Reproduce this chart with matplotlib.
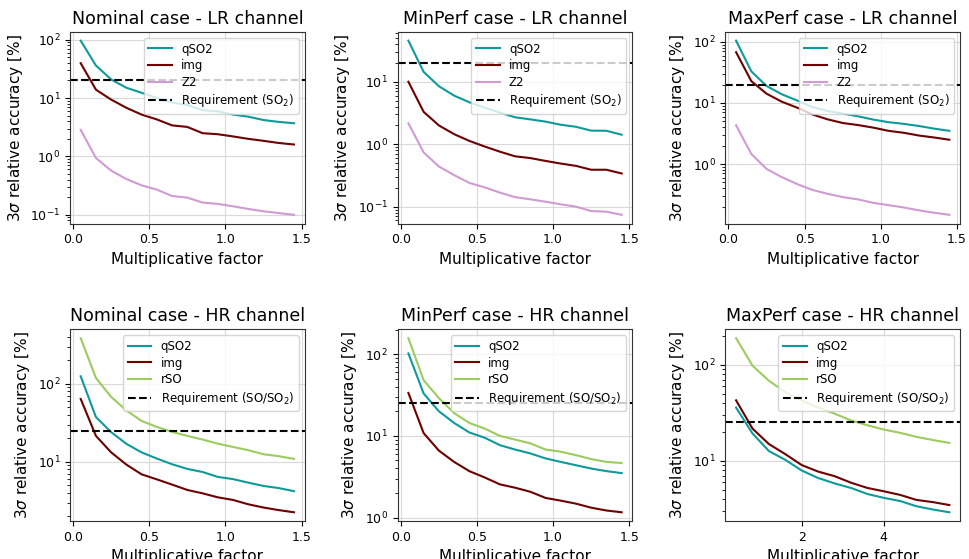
import numpy as np
import matplotlib
matplotlib.use("Agg")
import matplotlib.pyplot as plt
from matplotlib.ticker import MultipleLocator

# multiplicative factors
factor = [0.05, 0.15, 0.25, 0.35, 0.45, 0.55, 0.65, 0.75, 0.85, 0.95, 1.05, 1.15, 1.25, 1.35, 1.45]
factor_maxperf_hr = [0.4, 0.8, 1.2, 1.6, 2.0, 2.4, 2.8, 3.2, 3.6, 4.0, 4.4, 4.8, 5.2, 5.6]

# LR channel, 3-sigma relative accuracy [%]
nom_lr_qso2 = [96, 36, 20.8, 15, 12.3, 10, 8.4, 7.6, 6.2, 5.9, 5.2, 4.8, 4.2, 3.9, 3.7]
nom_lr_img = [39.5, 13.9, 9.4, 6.8, 5.2, 4.3, 3.4, 3.2, 2.5, 2.4, 2.2, 2.0, 1.85, 1.7, 1.6]
nom_lr_z2 = [2.85, 0.94, 0.57, 0.41, 0.32, 0.27, 0.21, 0.197, 0.162, 0.154, 0.14, 0.126, 0.115, 0.107, 0.10]

min_lr_qso2 = [45.5, 14.4, 8.5, 6.0, 4.7, 3.85, 3.2, 2.7, 2.5, 2.3, 2.05, 1.9, 1.65, 1.64, 1.42]
min_lr_img = [10, 3.3, 2.0, 1.45, 1.13, 0.92, 0.76, 0.64, 0.6, 0.54, 0.49, 0.45, 0.39, 0.39, 0.34]
min_lr_z2 = [2.16, 0.74, 0.44, 0.32, 0.24, 0.204, 0.168, 0.142, 0.131, 0.12, 0.109, 0.10, 0.085, 0.083, 0.074]

max_lr_qso2 = [105, 33, 19, 13.9, 11, 8.6, 7.4, 6.7, 6.05, 5.35, 4.85, 4.55, 4.2, 3.8, 3.5]
max_lr_img = [68, 22.8, 14.2, 10.5, 8.4, 6.5, 5.4, 4.7, 4.35, 3.95, 3.5, 3.25, 2.93, 2.72, 2.5]
max_lr_z2 = [4.3, 1.46, 0.83, 0.61, 0.47, 0.377, 0.325, 0.287, 0.263, 0.231, 0.212, 0.194, 0.174, 0.159, 0.147]

# HR channel
nom_hr_qso2 = [125, 37.5, 24, 17, 13.2, 11, 9.3, 8.1, 7.4, 6.4, 6.0, 5.4, 4.9, 4.6, 4.2]
nom_hr_img = [64, 21.5, 13.2, 9.2, 6.9, 5.95, 5.1, 4.35, 3.94, 3.5, 3.24, 2.85, 2.59, 2.4, 2.25]
nom_hr_rso = [386, 119, 68, 45.6, 33.4, 28, 24.2, 21.5, 19.3, 17.1, 15.5, 14.1, 12.5, 11.8, 10.9]

min_hr_qso2 = [102, 33, 20, 14.4, 11, 9.5, 7.7, 6.8, 6.1, 5.3, 4.8, 4.37, 3.98, 3.7, 3.5]
min_hr_img = [33.5, 10.8, 6.6, 4.8, 3.7, 3.1, 2.55, 2.32, 2.07, 1.74, 1.61, 1.48, 1.32, 1.22, 1.16]
min_hr_rso = [157, 48, 29, 19, 14.4, 12.3, 10, 9.0, 8.1, 6.8, 6.4, 5.8, 5.2, 4.8, 4.65]

max_hr_qso2 = [35.7, 19.2, 12.6, 10.2, 7.9, 6.6, 5.8, 5.2, 4.5, 4.1, 3.8, 3.35, 3.1, 2.9]
max_hr_img = [42.5, 21.6, 14.9, 11.7, 9.0, 7.7, 6.9, 5.9, 5.2, 4.8, 4.4, 3.9, 3.7, 3.45]
max_hr_rso = [189, 97.7, 68, 51.7, 42.5, 35.7, 30.9, 26.3, 23.4, 21.1, 19.5, 17.7, 16.4, 15.3]

req_lr = 20
req_hr = 25

C_QSO2 = "#0e9a9a"
C_IMG = "#6e0000"
C_Z2 = "#cf9bd3"
C_RSO = "#9ccc5e"

plt.rcParams["font.family"] = "DejaVu Sans"
plt.rcParams["xtick.labelsize"] = 9
plt.rcParams["ytick.labelsize"] = 9

fig, axes = plt.subplots(2, 3, figsize=(9.7, 5.59), dpi=100)
fig.subplots_adjust(left=0.0722, right=0.9897, top=0.9428, bottom=0.068,
                    wspace=0.397, hspace=0.553)

lr_panels = [
    ("Nominal case - LR channel", nom_lr_qso2, nom_lr_img, nom_lr_z2),
    ("MinPerf case - LR channel", min_lr_qso2, min_lr_img, min_lr_z2),
    ("MaxPerf case - LR channel", max_lr_qso2, max_lr_img, max_lr_z2),
]
hr_panels = [
    ("Nominal case - HR channel", factor, nom_hr_qso2, nom_hr_img, nom_hr_rso),
    ("MinPerf case - HR channel", factor, min_hr_qso2, min_hr_img, min_hr_rso),
    ("MaxPerf case - HR channel", factor_maxperf_hr, max_hr_qso2, max_hr_img, max_hr_rso),
]

for ax, (title, qso2, img, z2) in zip(axes[0], lr_panels):
    ax.plot(factor, qso2, color=C_QSO2, lw=1.5, label="qSO2")
    ax.plot(factor, img, color=C_IMG, lw=1.5, label="img")
    ax.plot(factor, z2, color=C_Z2, lw=1.5, label="Z2")
    ax.axhline(req_lr, color="k", ls="--", lw=1.5, label="Requirement (SO$_2$)")
    ax.set_title(title, fontsize=12.5)

for ax, (title, x, qso2, img, rso) in zip(axes[1], hr_panels):
    ax.plot(x, qso2, color=C_QSO2, lw=1.5, label="qSO2")
    ax.plot(x, img, color=C_IMG, lw=1.5, label="img")
    ax.plot(x, rso, color=C_RSO, lw=1.5, label="rSO")
    ax.axhline(req_hr, color="k", ls="--", lw=1.5, label="Requirement (SO/SO$_2$)")
    ax.set_title(title, fontsize=12.5)

axes[1, 2].xaxis.set_major_locator(MultipleLocator(2))

for ax in axes.flat:
    ax.set_yscale("log")
    ax.grid(True, which="major", color="0.85", lw=0.8)
    ax.set_axisbelow(True)
    ax.set_xlabel("Multiplicative factor", fontsize=11)
    ax.set_ylabel(r"3$\sigma$ relative accuracy [%]", fontsize=11)
    ax.legend(loc="upper right", fontsize=8.5, labelspacing=0.3)
    for s in ax.spines.values():
        s.set_color("0.2")

fig.savefig("out.png", dpi=100)
